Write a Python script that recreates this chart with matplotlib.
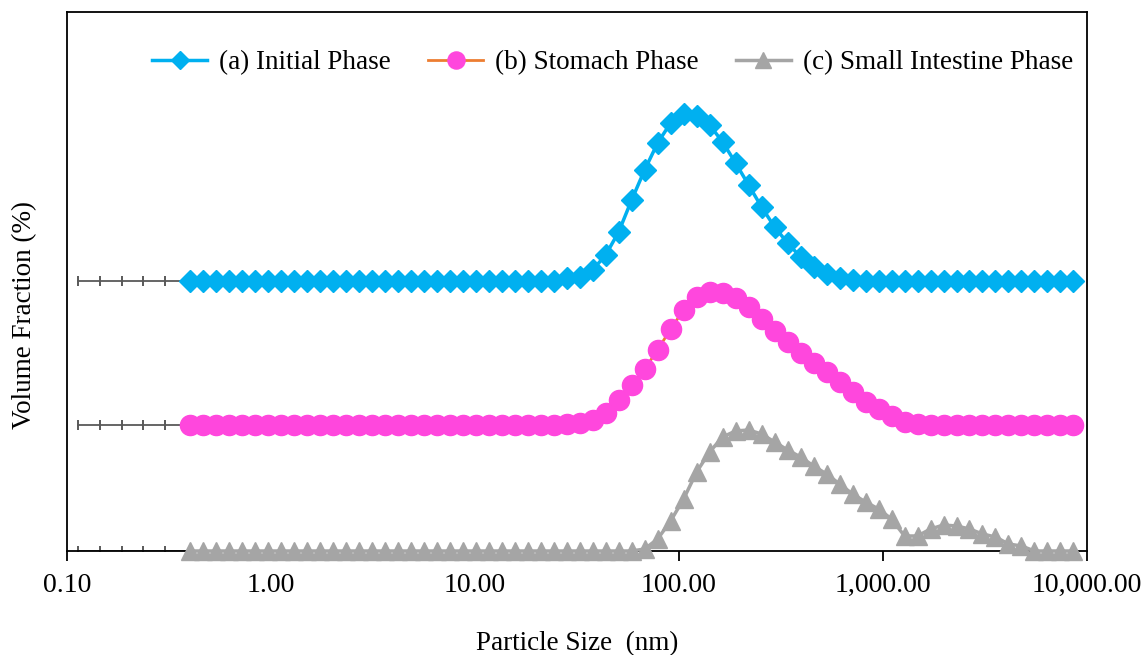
import numpy as np
import matplotlib
matplotlib.use('Agg')
import matplotlib.pyplot as plt
from matplotlib.ticker import FuncFormatter, NullLocator

plt.rcParams['font.family'] = ['Liberation Serif', 'DejaVu Serif']

# size classes (nm), log spaced as exported by the DLS instrument
size_nm = 0.4 * 10 ** (0.0637 * np.arange(69))

# volume fraction of each phase per size class (%)
initial = [0] * 29 + [0.3, 0.4, 1.1, 2.6, 4.9, 8.1, 11.1, 13.8, 15.8, 16.7, 16.5,
                      15.6, 13.9, 11.8, 9.6, 7.4, 5.4, 3.8, 2.4, 1.4, 0.7, 0.3,
                      0.1] + [0] * 17
stomach = [0] * 29 + [0.1, 0.2, 0.5, 1.2, 2.5, 4.0, 5.6, 7.5, 9.6, 11.5, 12.8,
                      13.3, 13.2, 12.7, 11.8, 10.6, 9.4, 8.3, 7.2, 6.2, 5.3, 4.3,
                      3.3, 2.3, 1.6, 0.9, 0.3, 0.1] + [0] * 12
intestine = [0] * 35 + [0.2, 1.2, 3.0, 5.2, 7.9, 9.9, 11.4, 12.0, 12.1, 11.7,
                        10.9, 10.1, 9.4, 8.5, 7.7, 6.7, 5.7, 4.9, 4.2, 3.2, 1.5,
                        1.5, 2.2, 2.6, 2.5, 2.2, 1.7, 1.4, 0.7, 0.5, 0, 0, 0, 0]

lead_x = [0.113, 0.145, 0.186, 0.236, 0.302]
offsets = [27.0, 12.6, 0.0]

fig = plt.figure(figsize=(11.43, 6.55), dpi=100)
ax = fig.add_axes([0.0586, 0.1588, 0.8924, 0.8229])

# small tick lead-in at each baseline
for off in offsets:
    ax.plot(lead_x + [size_nm[0]], [off] * 6, color='#595959', lw=1.3,
            marker='|', markersize=7, markeredgewidth=1.4,
            markevery=[0, 1, 2, 3, 4], zorder=2)

ax.plot(size_nm, np.array(initial) + offsets[0], color='#00B0F0', lw=2.5,
        marker='D', markersize=11, label='(a) Initial Phase', zorder=3)
ax.plot(size_nm, np.array(stomach) + offsets[1], color='#ED7D31', lw=2,
        marker='o', markersize=14.5, markerfacecolor='#FF47DD',
        markeredgecolor='#FF47DD', label='(b) Stomach Phase', zorder=3)
ax.plot(size_nm, np.array(intestine) + offsets[2], color='#A5A5A5', lw=2.5,
        marker='^', markersize=13, label='(c) Small Intestine Phase',
        zorder=3, clip_on=False)

ax.set_xscale('log')
ax.set_xlim(0.1, 10000)
ax.set_ylim(0, 53.9)
ax.xaxis.set_major_formatter(FuncFormatter(lambda v, p: f'{v:,.2f}'))
ax.xaxis.set_minor_locator(NullLocator())
ax.set_yticks([])
ax.tick_params(axis='x', direction='out', length=7, width=1.3,
               labelsize=20, pad=9, colors='black')
for s in ax.spines.values():
    s.set_linewidth(1.3)

ax.set_xlabel('Particle Size  (nm)', fontsize=19.5, labelpad=24)
ax.set_ylabel('Volume Fraction (%)', fontsize=19.5)
ax.yaxis.set_label_coords(-0.029, 0.438)

ax.legend(loc='center', bbox_to_anchor=(0.535, 0.906), ncol=3, frameon=False,
          fontsize=19.5, handlelength=2.0, handletextpad=0.45,
          columnspacing=1.4, markerscale=0.85)

fig.savefig('out.png', dpi=100)
